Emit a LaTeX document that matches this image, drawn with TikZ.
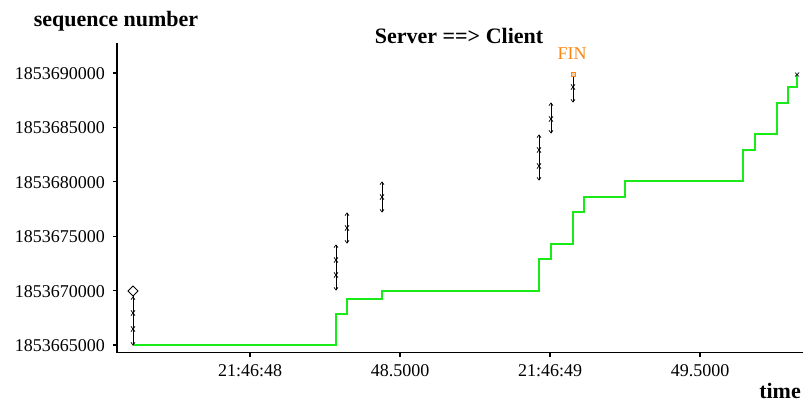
\documentclass[tikz,border=0pt]{standalone}
\usepackage{fontspec}
\setmainfont{Liberation Serif}
\usetikzlibrary{calc}
\definecolor{ackgreen}{RGB}{25,235,25}
\definecolor{finorange}{RGB}{250,135,20}
\begin{document}
\begin{tikzpicture}[x=1pt,y=-1pt,
  axis/.style={line width=1.6pt,black},
  tickmark/.style={line width=1.2pt,black},
  lbl/.style={font=\fontsize{18}{20}\selectfont,inner sep=0pt},
  ttl/.style={font=\fontsize{22}{24}\selectfont\bfseries,inner sep=0pt},
  ackline/.style={line width=1.1pt,color=ackgreen},
  segline/.style={line width=0.9pt,black},
  segtip/.style={line width=0.7pt,black}]
\useasboundingbox (0,0) rectangle (804,407);

% axes
\coordinate (yaxtop) at (117,43);
\coordinate (origin) at (117,352.5);
\coordinate (xaxend) at (803,352.5);
\draw[axis] (yaxtop) -- (origin) -- (xaxend);

% y ticks and labels
\foreach \v/\yy in {1853665000/345,1853670000/290.6,1853675000/236.2,1853680000/181.8,1853685000/127.4,1853690000/73}{
  \draw[tickmark] (113,\yy) -- (117,\yy);
  \node[lbl,anchor=east] (y\v) at (105,\yy+0.5) {\v};
}
% x ticks and labels
\foreach \xx/\t [count=\i] in {250/21:46:48,400/48.5000,550/21:46:49,700/49.5000}{
  \draw[tickmark] (\xx,352) -- (\xx,356.5);
  \node[lbl,anchor=base] (x\i) at (\xx,376.5) {\t};
}

% titles
\node[ttl,anchor=base] (ylabel) at (116,26) {sequence number};
\node[ttl,anchor=base] (title) at (459,43) {Server ==> Client};
\node[ttl,anchor=base east] (xlabel) at (801,398) {time};

% acknowledgement line
\draw[ackline] (133,345) -- (336,345) -- (336,314) -- (347,314) -- (347,299)
  -- (382,299) -- (382,291) -- (539,291) -- (539,259) -- (551,259) -- (551,244)
  -- (573,244) -- (573,212) -- (584,212) -- (584,197) -- (625,197) -- (625,181)
  -- (743,181) -- (743,150) -- (755,150) -- (755,134) -- (777,134) -- (777,103)
  -- (788,103) -- (788,87) -- (797,87) -- (797,75);

% data segments: vertical runs with arrow tips at each segment boundary
% top of a segment: up tip; bottom of a segment: down tip
\newcommand{\uptip}[2]{\draw[segtip] (#1-2,#2+2.6) -- (#1,#2) -- (#1+2,#2+2.6);}
\newcommand{\dntip}[2]{\draw[segtip] (#1-2,#2-2.6) -- (#1,#2) -- (#1+2,#2-2.6);}
\newcommand{\segrun}[3]{% x, bottom, top
  \draw[segline] (#1,#2) -- (#1,#3);}

% run 1 (three segments)
\segrun{133}{345}{296}
\foreach \yy in {345,329,313}{\dntip{133}{\yy}}
\foreach \yy in {329,313,297}{\uptip{133}{\yy}}
% run 2 (three segments)
\segrun{336}{290}{245}
\foreach \yy in {290,275,260}{\dntip{336}{\yy}}
\foreach \yy in {275,260,245}{\uptip{336}{\yy}}
% run 3 (two segments)
\segrun{347}{243}{213}
\foreach \yy in {243,228}{\dntip{347}{\yy}}
\foreach \yy in {228,213}{\uptip{347}{\yy}}
% run 4 (two segments)
\segrun{382}{212}{182}
\foreach \yy in {212,197}{\dntip{382}{\yy}}
\foreach \yy in {197,182}{\uptip{382}{\yy}}
% run 5 (three segments)
\segrun{539}{180}{135}
\foreach \yy in {180,166,150}{\dntip{539}{\yy}}
\foreach \yy in {166,150,135}{\uptip{539}{\yy}}
% run 6 (two segments)
\segrun{551}{133}{103}
\foreach \yy in {133,119}{\dntip{551}{\yy}}
\foreach \yy in {119,103}{\uptip{551}{\yy}}
% run 7 (two segments, ending with FIN)
\segrun{573}{102}{75}
\foreach \yy in {102,87}{\dntip{573}{\yy}}
\foreach \yy in {87}{\uptip{573}{\yy}}

% SYN marker
\node[draw=black,fill=white,line width=0.8pt,shape=rectangle,rotate=45,
  minimum size=7pt,inner sep=0pt] (syn) at (133,291) {};
% FIN marker and label
\node[draw=finorange,fill=finorange!40,line width=0.8pt,minimum size=4pt,
  inner sep=0pt] (fin) at (573,74) {};
\node[lbl,text=finorange,anchor=base] (finlabel) at (572,59) {FIN};
% last segment mark
\coordinate (lastseg) at (797,74.5);
\draw[segtip] ($(lastseg)+(-2,-2)$) -- ($(lastseg)+(2,2)$)
  ($(lastseg)+(-2,2)$) -- ($(lastseg)+(2,-2)$);
\end{tikzpicture}
\end{document}
